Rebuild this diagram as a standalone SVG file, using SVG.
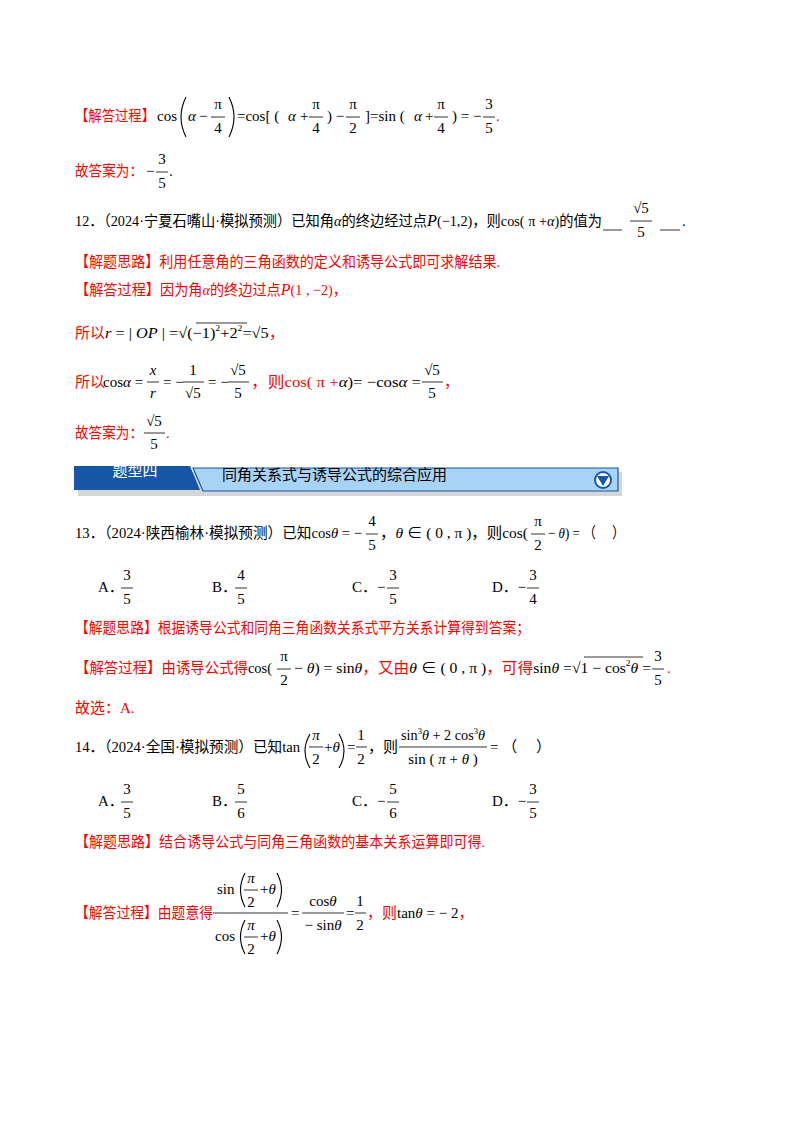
<svg xmlns="http://www.w3.org/2000/svg" width="800" height="1132" viewBox="0 0 800 1132">
<style>
text{font-family:"Liberation Serif","Noto Sans CJK SC",serif;font-size:15px;fill:#000}
.r{fill:#f00}
.i{font-style:italic}
.m{text-anchor:middle}
.s{font-size:9px}
line{stroke:#000;stroke-width:0.8}
.p{fill:none;stroke:#000;stroke-width:1.1}
.w{fill:#fff;font-family:"Noto Sans CJK SC",sans-serif;font-size:15px}
.h{font-family:"Noto Sans CJK SC",sans-serif;font-size:15px}
</style>
<rect width="800" height="1132" fill="#fff"/>

<!-- row 1 -->
<text x="75" y="121" class="r" textLength="80" lengthAdjust="spacingAndGlyphs">【解答过程】</text>
<text x="157" y="121">cos</text>
<path class="p" d="M186,97 Q176,117 186,137"/>
<text x="188" y="121" class="i">α</text><text x="199" y="121">−</text>
<text x="218" y="109" class="m">π</text><line x1="211" x2="225" y1="117" y2="117"/><text x="218" y="133" class="m">4</text>
<path class="p" d="M229,97 Q239,117 229,137"/>
<text x="237" y="121">=cos[ (</text><text x="288" y="121" class="i">α</text><text x="300" y="121">+</text>
<text x="316" y="109" class="m">π</text><line x1="309" x2="323" y1="117" y2="117"/><text x="316" y="133" class="m">4</text>
<text x="327" y="121">) −</text>
<text x="353" y="109" class="m">π</text><line x1="346" x2="360" y1="117" y2="117"/><text x="353" y="133" class="m">2</text>
<text x="365" y="121">]=sin (</text><text x="414" y="121" class="i">α</text><text x="425" y="121">+</text>
<text x="441" y="109" class="m">π</text><line x1="434" x2="448" y1="117" y2="117"/><text x="441" y="133" class="m">4</text>
<text x="452" y="121">) = −</text>
<text x="489" y="109" class="m">3</text><line x1="483" x2="495" y1="117" y2="117"/><text x="489" y="133" class="m">5</text>
<text x="496" y="121" class="r">.</text>

<!-- row 2 -->
<text x="75" y="176" class="r" textLength="68" lengthAdjust="spacingAndGlyphs">故答案为：</text>
<text x="146" y="176">−</text>
<text x="162" y="164" class="m">3</text><line x1="156" x2="168" y1="172" y2="172"/><text x="162" y="188" class="m">5</text>
<text x="169" y="176">.</text>

<!-- Q12 -->
<text x="75" y="226" textLength="527" lengthAdjust="spacingAndGlyphs">12．（2024·宁夏石嘴山·模拟预测）已知角<tspan class="i">α</tspan>的终边经过点<tspan class="i" font-size="17">P</tspan>(−1,2)，则cos( π +<tspan class="i">α</tspan>)的值为</text>
<line x1="603" x2="622" y1="230" y2="230"/>
<text x="641" y="213" class="m">√5</text><line x1="630" x2="652" y1="221" y2="221"/><text x="641" y="237" class="m">5</text>
<line x1="660" x2="680" y1="230" y2="230"/>
<text x="682" y="226">.</text>

<text x="75" y="267" class="r" textLength="425" lengthAdjust="spacingAndGlyphs">【解题思路】利用任意角的三角函数的定义和诱导公式即可求解结果.</text>
<text x="75" y="295" class="r" textLength="272" lengthAdjust="spacingAndGlyphs">【解答过程】因为角<tspan class="i">α</tspan>的终边过点<tspan class="i" font-size="17">P</tspan>(1 , −2)，</text>

<text x="75" y="338" class="r">所以</text>
<text x="105" y="338" textLength="180" lengthAdjust="spacingAndGlyphs"><tspan class="i">r</tspan> = | <tspan class="i">OP</tspan> | =√(−1)<tspan class="s" dy="-7">2</tspan><tspan dy="7">+2</tspan><tspan class="s" dy="-7">2</tspan><tspan dy="7">=√5</tspan><tspan class="r">，</tspan></text>
<line x1="196" x2="247" y1="323" y2="323"/>

<text x="75" y="387" class="r">所以</text>
<text x="103" y="387">cos<tspan class="i">α</tspan> =</text>
<text x="153" y="375" class="m i">x</text><line x1="147" x2="159" y1="382" y2="382"/><text x="153" y="398" class="m i">r</text>
<text x="163" y="387">= −</text>
<text x="193" y="375" class="m">1</text><line x1="183" x2="204" y1="382" y2="382"/><text x="185" y="398">√5</text>
<text x="208" y="387">= −</text>
<text x="238" y="375" class="m">√5</text><line x1="228" x2="249" y1="382" y2="382"/><text x="238" y="398" class="m">5</text>
<text x="251" y="387" class="r" textLength="170" lengthAdjust="spacingAndGlyphs">，则cos( π +<tspan class="i" fill="#000">α</tspan><tspan fill="#000">)= −cos</tspan><tspan class="i" fill="#000">α</tspan><tspan fill="#000"> =</tspan></text>
<text x="432" y="375" class="m">√5</text><line x1="422" x2="443" y1="382" y2="382"/><text x="432" y="398" class="m">5</text>
<text x="444" y="387" class="r">，</text>

<text x="75" y="438" class="r" textLength="68" lengthAdjust="spacingAndGlyphs">故答案为：</text>
<text x="154" y="426" class="m">√5</text><line x1="144" x2="165" y1="433" y2="433"/><text x="154" y="449" class="m">5</text>
<text x="166" y="438" class="r">.</text>

<!-- banner -->
<g id="banner">
<rect x="78" y="472" width="544" height="24" fill="#bbb" opacity="0.6"/>
<polygon points="74,466 190,466 200,490 74,490" fill="#1557a6"/>
<polygon points="193,468 618,468 618,491 203,491" fill="#a8d3f5" stroke="#1557a6" stroke-width="1.2"/>
<text x="135" y="476" class="w m">题型四</text>
<text x="222" y="480" class="h">同角关系式与诱导公式的综合应用</text>
<circle cx="603" cy="480" r="9" fill="#1557a6"/>
<circle cx="603" cy="480" r="7" fill="#fff"/>
<polygon points="597,476 609,476 603,486" fill="#1557a6"/>
</g>

<!-- Q13 -->
<text x="75" y="538" textLength="287" lengthAdjust="spacingAndGlyphs">13．（2024·陕西榆林·模拟预测）已知cos<tspan class="i">θ</tspan> = −</text>
<text x="372" y="526" class="m">4</text><line x1="366" x2="378" y1="534" y2="534"/><text x="372" y="550" class="m">5</text>
<text x="380" y="538" textLength="148" lengthAdjust="spacingAndGlyphs">，<tspan class="i">θ</tspan> ∈ ( 0 , π )，则cos(</text>
<text x="538" y="526" class="m">π</text><line x1="531" x2="545" y1="534" y2="534"/><text x="538" y="550" class="m">2</text>
<text x="548" y="538" textLength="77" lengthAdjust="spacingAndGlyphs">− <tspan class="i">θ</tspan>) = （　 ）</text>

<text x="98" y="592">A．</text><text x="127" y="580" class="m">3</text><line x1="121" x2="133" y1="588" y2="588"/><text x="127" y="604" class="m">5</text>
<text x="212" y="592">B．</text><text x="241" y="580" class="m">4</text><line x1="235" x2="247" y1="588" y2="588"/><text x="241" y="604" class="m">5</text>
<text x="352" y="592">C．−</text><text x="393" y="580" class="m">3</text><line x1="387" x2="399" y1="588" y2="588"/><text x="393" y="604" class="m">5</text>
<text x="492" y="592">D．−</text><text x="533" y="580" class="m">3</text><line x1="527" x2="539" y1="588" y2="588"/><text x="533" y="604" class="m">4</text>

<text x="75" y="633" class="r" textLength="455" lengthAdjust="spacingAndGlyphs">【解题思路】根据诱导公式和同角三角函数关系式平方关系计算得到答案；</text>
<text x="75" y="673" class="r" textLength="197" lengthAdjust="spacingAndGlyphs">【解答过程】由诱导公式得<tspan fill="#000">cos(</tspan></text>
<text x="284" y="661" class="m">π</text><line x1="277" x2="291" y1="669" y2="669"/><text x="284" y="685" class="m">2</text>
<text x="294" y="673" textLength="357" lengthAdjust="spacingAndGlyphs">− <tspan class="i">θ</tspan>) = sin<tspan class="i">θ</tspan><tspan class="r">，又由</tspan><tspan class="i">θ</tspan> ∈ ( 0 , π )<tspan class="r">，可得</tspan>sin<tspan class="i">θ</tspan> =√1 − cos<tspan class="s" dy="-7">2</tspan><tspan class="i" dy="7">θ</tspan> =</text>
<line x1="584" x2="643" y1="657" y2="657"/>
<text x="658" y="661" class="m">3</text><line x1="652" x2="664" y1="669" y2="669"/><text x="658" y="685" class="m">5</text>
<text x="667" y="673" class="r">.</text>

<text x="75" y="713" class="r">故选：A.</text>

<!-- Q14 -->
<text x="75" y="752" textLength="225" lengthAdjust="spacingAndGlyphs">14．（2024·全国·模拟预测）已知tan</text>
<path class="p" d="M310,734 Q300,751 310,768"/>
<text x="316" y="740" class="m i">π</text><line x1="309" x2="323" y1="747" y2="747"/><text x="316" y="764" class="m">2</text>
<text x="324" y="752">+<tspan class="i">θ</tspan></text>
<path class="p" d="M339,734 Q349,751 339,768"/>
<text x="347" y="752">=</text>
<text x="361" y="740" class="m">1</text><line x1="356" x2="367" y1="747" y2="747"/><text x="361" y="764" class="m">2</text>
<text x="368" y="752">，则</text>
<text x="443" y="740" class="m" textLength="84" lengthAdjust="spacingAndGlyphs">sin<tspan class="s" dy="-6">3</tspan><tspan class="i" dy="6">θ</tspan> + 2 cos<tspan class="s" dy="-6">3</tspan><tspan class="i" dy="6">θ</tspan></text>
<line x1="399" x2="487" y1="747" y2="747"/>
<text x="443" y="764" class="m">sin ( <tspan class="i">π</tspan> + <tspan class="i">θ</tspan> )</text>
<text x="490" y="752">= （　 ）</text>

<text x="98" y="806">A．</text><text x="127" y="794" class="m">3</text><line x1="121" x2="133" y1="802" y2="802"/><text x="127" y="818" class="m">5</text>
<text x="212" y="806">B．</text><text x="241" y="794" class="m">5</text><line x1="235" x2="247" y1="802" y2="802"/><text x="241" y="818" class="m">6</text>
<text x="352" y="806">C．−</text><text x="393" y="794" class="m">5</text><line x1="387" x2="399" y1="802" y2="802"/><text x="393" y="818" class="m">6</text>
<text x="492" y="806">D．−</text><text x="533" y="794" class="m">3</text><line x1="527" x2="539" y1="802" y2="802"/><text x="533" y="818" class="m">5</text>

<text x="75" y="847" class="r" textLength="410" lengthAdjust="spacingAndGlyphs">【解题思路】结合诱导公式与同角三角函数的基本关系运算即可得.</text>

<text x="75" y="918" class="r" textLength="138" lengthAdjust="spacingAndGlyphs">【解答过程】由题意得</text>
<text x="217" y="894">sin</text>
<path class="p" d="M245,873 Q236,890 245,907"/>
<text x="251" y="883" class="m i">π</text><line x1="244" x2="258" y1="890" y2="890"/><text x="251" y="907" class="m">2</text>
<text x="260" y="894">+<tspan class="i">θ</tspan></text>
<path class="p" d="M277,873 Q286,890 277,907"/>
<line x1="213" x2="288" y1="913" y2="913"/>
<text x="215" y="941">cos</text>
<path class="p" d="M245,920 Q236,937 245,954"/>
<text x="251" y="930" class="m i">π</text><line x1="244" x2="258" y1="937" y2="937"/><text x="251" y="954" class="m">2</text>
<text x="260" y="941">+<tspan class="i">θ</tspan></text>
<path class="p" d="M277,920 Q286,937 277,954"/>
<text x="291" y="918">=</text>
<text x="323" y="906" class="m">cos<tspan class="i">θ</tspan></text><line x1="302" x2="344" y1="913" y2="913"/><text x="323" y="930" class="m">− sin<tspan class="i">θ</tspan></text>
<text x="346" y="918">=</text>
<text x="360" y="906" class="m">1</text><line x1="355" x2="366" y1="913" y2="913"/><text x="360" y="930" class="m">2</text>
<text x="367" y="918" class="r">，则<tspan fill="#000">tan</tspan><tspan class="i" fill="#000">θ</tspan><tspan fill="#000"> = − 2</tspan>，</text>
</svg>
